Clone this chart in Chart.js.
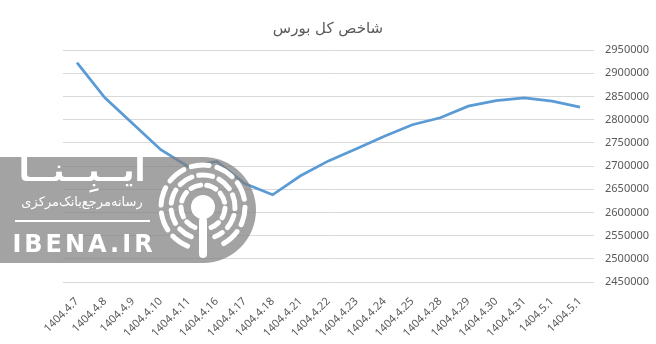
<!DOCTYPE html>
<html>
<head>
<meta charset="utf-8">
<script src="https://cdn.jsdelivr.net/npm/chart.js@4.4.0/dist/chart.umd.min.js"></script>
<style>
html,body{margin:0;padding:0;background:#fff;}
#wrap{width:656px;height:344px;position:relative;}
</style>
</head>
<body>
<div id="wrap"><canvas id="c" width="656" height="344"></canvas></div>
<script>
const chartTitle = 'شاخص کل بورس';
const categories = ['1404.4.7','1404.4.8','1404.4.9','1404.4.10','1404.4.11','1404.4.16','1404.4.17','1404.4.18','1404.4.21','1404.4.22','1404.4.23','1404.4.24','1404.4.25','1404.4.28','1404.4.29','1404.4.30','1404.4.31','1404.5.1','1404.5.1'];
const indexValues = [2923000,2847000,2791000,2735000,2698000,2710000,2662000,2638000,2679000,2711000,2737000,2764000,2789000,2804000,2829000,2841000,2847000,2840000,2827000];
const yMin = 2450000, yMax = 2950000, yStep = 50000;

const watermark = {
  id: 'watermark',
  afterDraw(chart) {
    const ctx = chart.ctx;
    ctx.save();
    const top = 157, bottom = 263, cx = 203, cy = 210, r = (bottom - top) / 2;
    ctx.fillStyle = 'rgba(128,128,128,0.72)';
    ctx.beginPath();
    ctx.moveTo(0, top);
    ctx.lineTo(cx, top);
    ctx.arc(cx, cy, r, -Math.PI / 2, Math.PI / 2);
    ctx.lineTo(0, bottom);
    ctx.closePath();
    ctx.fill();
    ctx.fillStyle = '#fff';
    ctx.strokeStyle = '#fff';
    ctx.textBaseline = 'middle';
    ctx.textAlign = 'center';
    ctx.font = 'bold 32px "DejaVu Sans"';
    ctx.fillText('ایــبِــنــا', 82, 173);
    ctx.font = '13px "DejaVu Sans"';
    ctx.fillText('رسانه‌مرجع‌بانک‌مرکزی', 82, 203);
    ctx.fillRect(15, 220, 135, 2);
    ctx.font = 'bold 24px "DejaVu Sans"';
    if ('letterSpacing' in ctx) ctx.letterSpacing = '3px';
    ctx.fillText('IBENA.IR', 84, 246);
    if ('letterSpacing' in ctx) ctx.letterSpacing = '0px';
    const lx = 203, ly = 207;
    ctx.beginPath();
    ctx.arc(lx, ly, 12, 0, Math.PI * 2);
    ctx.fill();
    ctx.lineCap = 'round';
    ctx.lineWidth = 5;
    const rings = [[22, [10, 6]], [32, [14, 7]], [42, [18, 8]]];
    rings.forEach(([rr, dash]) => {
      ctx.setLineDash(dash);
      ctx.beginPath();
      ctx.arc(lx, ly, rr, Math.PI * 0.62, Math.PI * 2.38);
      ctx.stroke();
    });
    ctx.setLineDash([]);
    ctx.lineWidth = 8;
    ctx.beginPath();
    ctx.moveTo(lx, ly + 14);
    ctx.lineTo(lx, ly + 47);
    ctx.stroke();
    ctx.restore();
  }
};

new Chart(document.getElementById('c'), {
  type: 'line',
  data: {
    labels: categories,
    datasets: [{
      data: indexValues,
      borderColor: '#5B9BD5',
      borderWidth: 2.75,
      pointRadius: 0,
      tension: 0,
      fill: false,
      yAxisID: 'y'
    }]
  },
  options: {
    responsive: false,
    animation: false,
    layout: { padding: 0 },
    plugins: {
      legend: { display: false },
      tooltip: { enabled: false },
      title: {
        display: true,
        text: chartTitle,
        color: '#595959',
        font: { family: '"DejaVu Sans"', size: 15, weight: 'normal' },
        padding: { top: 20, bottom: 12 }
      }
    },
    scales: {
      x: {
        offset: true,
        grid: { display: false, drawTicks: false },
        border: { display: false },
        afterFit(s) { s.height = 62; },
        ticks: {
          minRotation: 45, maxRotation: 45, autoSkip: false,
          color: '#595959', padding: 13,
          font: { family: '"Noto Sans"', size: 11 }
        }
      },
      y: {
        position: 'right',
        min: yMin, max: yMax,
        grid: { color: '#d9d9d9', drawTicks: false, lineWidth: 1 },
        border: { display: false },
        afterFit(s) { s.width = 62; },
        ticks: {
          stepSize: yStep, color: '#595959', padding: 11,
          font: { family: '"Noto Sans"', size: 11 },
          callback: v => String(v)
        }
      },
      yLeft: {
        position: 'left',
        display: true,
        grid: { display: false, drawTicks: false },
        border: { display: false },
        ticks: { display: false },
        afterFit(s) { s.width = 63; }
      }
    }
  },
  plugins: [watermark]
});
</script>
</body>
</html>
